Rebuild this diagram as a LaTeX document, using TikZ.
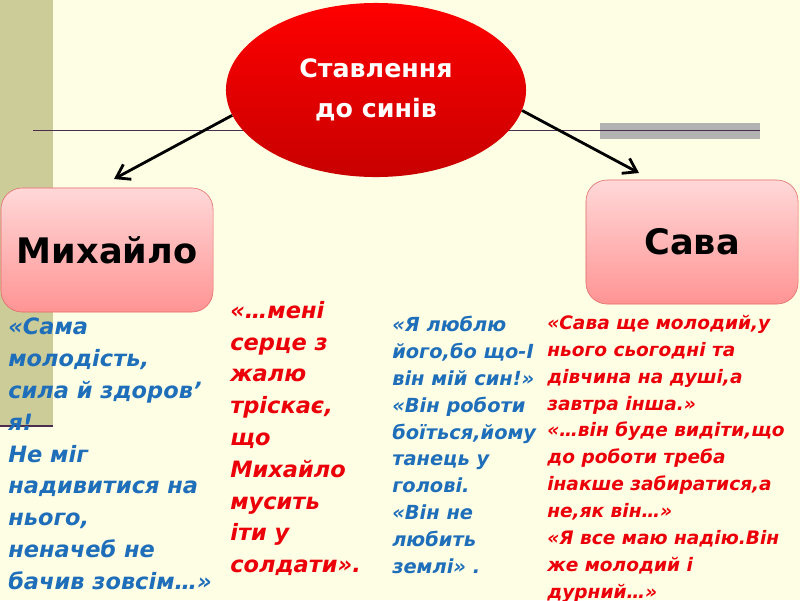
\documentclass[tikz,border=0pt]{standalone}
\usepackage{fontspec}
\setmainfont{DejaVu Sans}
\usetikzlibrary{arrows.meta,shapes.geometric}
\definecolor{cream}{RGB}{254,254,228}
\definecolor{olive}{RGB}{204,204,153}
\definecolor{plum}{RGB}{75,45,80}
\definecolor{quoteblue}{RGB}{30,110,185}
\definecolor{quotered}{RGB}{235,0,10}
\tikzset{x=0.025cm, y=-0.025cm,
    namebox/.style={draw={rgb,255:red,225;green,105;blue,105}, rounded corners=15pt,
        top color={rgb,255:red,255;green,216;blue,216},
        bottom color={rgb,255:red,255;green,148;blue,148},
        minimum width=5.3cm, minimum height=3.1cm,
        font=\fontsize{25}{30}\selectfont\bfseries},
    bigquote/.style={anchor=north west, align=left, inner sep=0pt,
        font=\fontsize{16}{22.6}\selectfont\bfseries\itshape},
    smallquote/.style={anchor=north west, align=left, inner sep=0pt,
        font=\fontsize{13.2}{19.1}\selectfont\bfseries\itshape},
    pointer/.style={line width=2pt, -{Straight Barb[length=9pt,width=12pt]}},
    }

\begin{document}
\begin{tikzpicture}
	\useasboundingbox (0,0) rectangle (800,600);
	\fill[cream] (0,0) rectangle (800,600);
	\fill[olive] (0,0) rectangle (53,426);
	\draw[plum, line width=2pt] (0,426) -- (53,426);
	\fill[gray!60] (600,123) rectangle (760,139);
	\draw[plum] (33,130) -- (760,130);
	\node[ellipse, minimum width=7.5cm, minimum height=4.35cm, inner sep=0pt,
		top color={rgb,255:red,255;green,0;blue,0},
		bottom color={rgb,255:red,200;green,0;blue,0},
		text=white, align=center, font=\fontsize{18}{28}\selectfont\bfseries]
		(attitude) at (376,90) {Ставлення\\до синів};
	\node[namebox] (mykhailo) at (107,250) {Михайло};
	\node[namebox] (sava) at (692,242) {Сава};
	\coordinate (mykhailotip) at (114,179);
	\coordinate (savatip) at (639,173);
	\draw[pointer] (attitude.190) -- (mykhailotip);
	\draw[pointer] (attitude.352) -- (savatip);
	% quotes
	\node[bigquote, text=quoteblue] (mykhailoA) at (8,318)
		{«Сама\\молодість,\\сила й здоров’\\я!\\Не міг\\надивитися на\\нього,\\неначеб не\\бачив зовсім…»};
	\node[bigquote, text=quotered] (mykhailoB) at (230,301)
		{«…мені\\серце з\\жалю\\тріскає,\\що\\Михайло\\мусить\\іти у\\солдати».};
	\node[smallquote, font=\fontsize{13.8}{19.1}\selectfont\bfseries\itshape, text=quoteblue]
		(savaA) at (392,316)
		{«Я люблю\\його,бо що-І\\він мій син!»\\«Він роботи\\боїться,йому\\танець у\\голові.\\«Він не\\любить\\землі» .};
	\node[smallquote, text=quotered] (savaB) at (547,315)
		{«Сава ще молодий,у\\нього сьогодні та\\дівчина на душі,а\\завтра інша.»\\«…він буде видіти,що\\до роботи треба\\інакше забиратися,а\\не,як він…»\\«Я все маю надію.Він\\же молодий і\\дурний…»};
\end{tikzpicture}
\end{document}
